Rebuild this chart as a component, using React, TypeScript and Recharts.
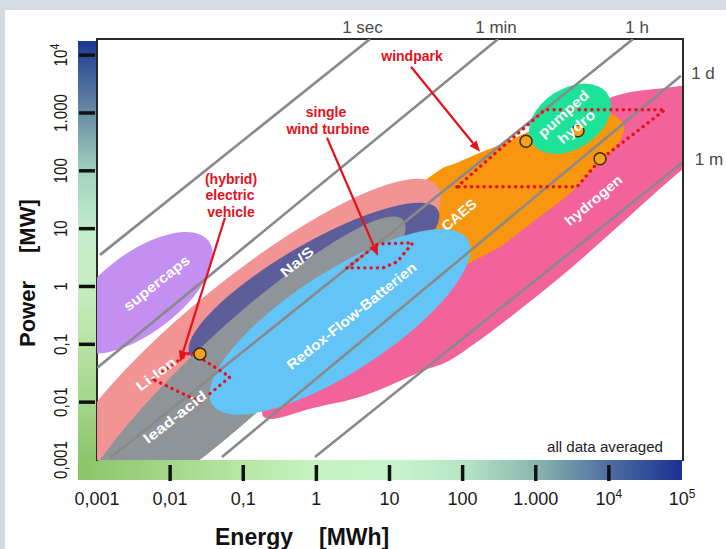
import React from 'react';
import { ScatterChart, Scatter, XAxis, YAxis, ReferenceDot } from 'recharts';

type Pt = { e: number; p: number };

const FONT = '"Liberation Sans", Arial, sans-serif';
const RED = '#e5121c';

// ---- axes ----
const xDomain = [0.001, 100000];
const yDomain = [0.001, 19000];
const xTicks = [0.001, 0.01, 0.1, 1, 10, 100, 1000, 10000, 100000];
const xTickLabels = ['0,001', '0,01', '0,1', '1', '10', '100', '1.000', '10^4', '10^5'];
const yTicks = [0.001, 0.01, 0.1, 1, 10, 100, 1000, 10000];
const yTickLabels = ['0,001', '0,01', '0,1', '1', '10', '100', '1.000', '10^4'];

// ---- outlines [MWh, MW] ----
const hydrogenOutline: Pt[] = [
  { e: 1170000, p: 3750 },
  { e: 62370, p: 2729 },
  { e: 11380, p: 1905 },
  { e: 2147, p: 625 },
  { e: 324, p: 85.3 },
  { e: 26.1, p: 4.3 },
  { e: 1.535, p: 0.119 },
  { e: 0.2716, p: 0.01334 },
  { e: 0.1803, p: 0.00676 },
  { e: 0.2553, p: 0.00512 },
  { e: 0.899, p: 0.00794 },
  { e: 4.34, p: 0.0128 },
  { e: 26.1, p: 0.0333 },
  { e: 101.2, p: 0.074 },
  { e: 2360, p: 1.589 },
  { e: 100000, p: 104 },
  { e: 1170000, p: 1136 },
];
const caesOutline: Pt[] = [
  { e: 13.9, p: 25.8 },
  { e: 44.7, p: 96.1 },
  { e: 83.8, p: 137.4 },
  { e: 173, p: 204.8 },
  { e: 404.6, p: 317.6 },
  { e: 916, p: 511.7 },
  { e: 2512, p: 826 },
  { e: 7568, p: 1049 },
  { e: 13335, p: 826 },
  { e: 16100, p: 511.7 },
  { e: 12130, p: 250 },
  { e: 6067, p: 104 },
  { e: 2675, p: 36.9 },
  { e: 916, p: 13.1 },
  { e: 324, p: 4.84 },
  { e: 126.2, p: 2.56 },
  { e: 71.6, p: 1.409 },
  { e: 26.1, p: 0.873 },
  { e: 11.9, p: 3.52 },
];

// ---- other regions: two ends of the long axis + one end of the short axis [MWh, MW] ----
const pumpedHydroRegion: Pt[] = [{ e: 897, p: 299 }, { e: 9640, p: 2108 }, { e: 4910, p: 291 }];
const liIonRegion: Pt[] = [{ e: 0.000312, p: 0.000303 }, { e: 44.7, p: 55.0 }, { e: 0.386, p: 0.0201 }];
const naSRegion: Pt[] = [{ e: 0.0187, p: 0.0656 }, { e: 46.0, p: 21.1 }, { e: 1.7, p: 0.318 }];
const leadAcidRegion: Pt[] = [{ e: 0.000567, p: 0.0000993 }, { e: 15.3, p: 14.2 }, { e: 0.2328, p: 0.01067 }];
const supercapsRegion: Pt[] = [{ e: 0.000446, p: 0.0984 }, { e: 0.0337, p: 6.1 }, { e: 0.00828, p: 0.217 }];
const redoxFlowRegion: Pt[] = [{ e: 0.0379, p: 0.00902 }, { e: 116.7, p: 6.61 }, { e: 4.95, p: 0.046 }];

const ellipseRegions = [
  { name: 'pumped hydro', pts: pumpedHydroRegion, color: '#1fe29a' },
  { name: 'Li-Ion', pts: liIonRegion, color: '#f29494' },
  { name: 'Na/S', pts: naSRegion, color: '#5c5d99' },
  { name: 'lead-acid', pts: leadAcidRegion, color: '#8f9499' },
  { name: 'supercaps', pts: supercapsRegion, color: '#c38ff0' },
  { name: 'Redox-Flow', pts: redoxFlowRegion, color: '#63c5f7' },
];

// ---- discharge-time lines ----
const lineSec: Pt[] = [{ e: 0.0011, p: 3.52 }, { e: 5.41, p: 19000 }];
const lineMin: Pt[] = [{ e: 0.001, p: 0.0391 }, { e: 305, p: 19000 }];
const lineHour: Pt[] = [{ e: 0.00151, p: 0.00108 }, { e: 21400, p: 19000 }];
const lineDay: Pt[] = [{ e: 0.0512, p: 0.00113 }, { e: 96900, p: 4400 }];
const lineMonth: Pt[] = [{ e: 0.957, p: 0.00113 }, { e: 100000, p: 137 }];
const timeLines = [lineSec, lineMin, lineHour, lineDay, lineMonth];
const timeLabels = [
  { text: '1 sec', e: 4.27, p: 30980 },
  { text: '1 min', e: 286, p: 30980 },
  { text: '1 h', e: 24270, p: 30980 },
  { text: '1 d', e: 193600, p: 4966 },
  { text: '1 m', e: 233900, p: 158 },
];

// ---- application areas (dotted) ----
const evArea: Pt[] = [{ e: 0.00565, p: 0.0252 }, { e: 0.0193, p: 0.074 }, { e: 0.0659, p: 0.0273 }, { e: 0.0256, p: 0.0101 }];
const turbineArea: Pt[] = [{ e: 2.62, p: 2.1 }, { e: 6.96, p: 5.46 }, { e: 20.9, p: 5.68 }, { e: 12.7, p: 2.67 }, { e: 8.15, p: 2.1 }];
const windparkArea: Pt[] = [{ e: 83.8, p: 52.9 }, { e: 1337, p: 1136 }, { e: 58580, p: 1136 }, { e: 7568, p: 155 }, { e: 3664, p: 52.9 }];
const areas = [evArea, turbineArea, windparkArea];

// ---- marked installations ----
const installations: Pt[] = [{ e: 0.0256, p: 0.0683 }, { e: 736, p: 324 }, { e: 3784, p: 492 }, { e: 7568, p: 161 }];

// ---- arrows ----
const evArrow: Pt[] = [{ e: 0.0562, p: 15.4 }, { e: 0.01365, p: 0.0497 }];
const turbineArrow: Pt[] = [{ e: 1.397, p: 372 }, { e: 6.96, p: 3.38 }];
const windparkArrow: Pt[] = [{ e: 19.7, p: 6295 }, { e: 173, p: 213 }];
const arrows = [evArrow, turbineArrow, windparkArrow];

// ---- texts ----
const regionLabels = [
  { text: 'supercaps', e: 0.00651, p: 1.15 },
  { text: 'Li-Ion', e: 0.00641, p: 0.0308 },
  { text: 'lead-acid', e: 0.01167, p: 0.00555 },
  { text: 'Na/S', e: 0.543, p: 2.67 },
  { text: 'Redox-Flow-Batterien', e: 3.02, p: 0.31 },
  { text: 'CAES', e: 89.1, p: 17.3 },
  { text: 'pumped', e: 2395, p: 969 },
  { text: 'hydro', e: 3606, p: 577 },
  { text: 'hydrogen', e: 6166, p: 30.9 },
];
const regionLabelAngles = [-38.4, -37, -38, -40, -38.8, -40, -42, -40, -40];
const regionLabelLengths = [80, 46, 76, 39, 162, 41, 63, 44, 70];

const annotationLabels = [
  { text: '(hybrid)', e: 0.068, p: 72.7 },
  { text: 'electric', e: 0.0659, p: 38.4 },
  { text: 'vehicle', e: 0.068, p: 19.5 },
  { text: 'single', e: 1.355, p: 1049 },
  { text: 'wind turbine', e: 1.442, p: 533 },
  { text: 'windpark', e: 20.3, p: 9772 },
];
const noteLabel = { text: 'all data averaged', e: 8851, p: 0.00168 };

// ---- renderers ----
const emptyShape = () => <g />;

const sup = (label: string, size: number, dy: number) => {
  const [b, s] = label.split('^');
  if (!s) return b;
  return (
    <>
      {b}
      <tspan dy={dy} fontSize={size}>
        {s}
      </tspan>
    </>
  );
};

const XTick = (props: any) => {
  const { x, y, payload } = props;
  const v = payload.value;
  const i = xTicks.findIndex((t) => Math.abs(t - v) / t < 1e-6);
  const label = xTickLabels[i] ?? String(v);
  const mark = v > 0.0015 && v < 50000;
  return (
    <g>
      {mark && <line x1={x} x2={x} y1={y + 5} y2={y + 21} stroke="#111" strokeWidth={3.5} />}
      <text x={x} y={y + 45} textAnchor="middle" fontSize={18} fill="#1a1a1a" fontFamily={FONT}>
        {sup(label, 12, -7)}
      </text>
    </g>
  );
};

const YTick = (props: any) => {
  const { x, y, payload } = props;
  const v = payload.value;
  const i = yTicks.findIndex((t) => Math.abs(t - v) / t < 1e-6);
  const label = yTickLabels[i] ?? String(v);
  const mark = v > 0.0015;
  return (
    <g>
      {mark && <line x1={x - 18} x2={x - 2} y1={y} y2={y} stroke="#111" strokeWidth={3.5} />}
      <text
        transform={`translate(${x - 30},${y}) rotate(-90) scale(0.8,1)`}
        textAnchor="middle"
        fontSize={19}
        fill="#1a1a1a"
        fontFamily={FONT}
      >
        {sup(label, 13, -8)}
      </text>
    </g>
  );
};

const XTitle = (props: any) => {
  const vb = props.viewBox || { x: 97, y: 460 };
  return (
    <text x={vb.x + 118} y={vb.y + 85} fontSize={23} fontWeight="bold" fill="#111" fontFamily={FONT}>
      <tspan>Energy</tspan>
      <tspan dx={26}>[MWh]</tspan>
    </text>
  );
};

const YTitle = (props: any) => {
  const vb = props.viewBox || { x: 0, y: 39 };
  return (
    <text
      transform={`translate(${vb.x + 35},${vb.y + 308}) rotate(-90)`}
      fontSize={22}
      fontWeight="bold"
      fill="#111"
      fontFamily={FONT}
    >
      <tspan>Power</tspan>
      <tspan dx={28}>[MW]</tspan>
    </text>
  );
};

const ellipseLine = (fill: string) => (props: any) => {
  const pts = props.points || [];
  if (pts.length < 3) return <g />;
  const [a, b, c] = pts;
  const cx = (a.x + b.x) / 2;
  const cy = (a.y + b.y) / 2;
  const rx = Math.hypot(b.x - a.x, b.y - a.y) / 2;
  const ry = Math.hypot(c.x - cx, c.y - cy);
  const ang = (Math.atan2(b.y - a.y, b.x - a.x) * 180) / Math.PI;
  return <ellipse cx={cx} cy={cy} rx={rx} ry={ry} fill={fill} transform={`rotate(${ang} ${cx} ${cy})`} />;
};

const smoothOutline = (fill: string) => (props: any) => {
  const pts = props.points || [];
  const n = pts.length;
  if (n < 3) return <g />;
  let d = `M${pts[0].x},${pts[0].y}`;
  for (let i = 0; i < n; i++) {
    const p0 = pts[(i - 1 + n) % n];
    const p1 = pts[i];
    const p2 = pts[(i + 1) % n];
    const p3 = pts[(i + 2) % n];
    const c1x = p1.x + (p2.x - p0.x) / 6;
    const c1y = p1.y + (p2.y - p0.y) / 6;
    const c2x = p2.x - (p3.x - p1.x) / 6;
    const c2y = p2.y - (p3.y - p1.y) / 6;
    d += ` C${c1x},${c1y} ${c2x},${c2y} ${p2.x},${p2.y}`;
  }
  return <path d={d + ' Z'} fill={fill} />;
};

const greyLine = (props: any) => {
  const pts = props.points || [];
  if (pts.length < 2) return <g />;
  const [a, b] = pts;
  return <line x1={a.x} y1={a.y} x2={b.x} y2={b.y} stroke="#898989" strokeWidth={2.6} />;
};

const dottedLine = (props: any) => {
  const pts = props.points || [];
  if (pts.length < 2) return <g />;
  const d = pts.map((q: any, i: number) => `${i ? 'L' : 'M'}${q.x},${q.y}`).join(' ') + ' Z';
  return <path d={d} fill="none" stroke={RED} strokeWidth={3.4} strokeDasharray="0.1 6.2" strokeLinecap="round" />;
};

const arrowLine = (props: any) => {
  const pts = props.points || [];
  if (pts.length < 2) return <g />;
  const [a, b] = pts;
  const ang = Math.atan2(b.y - a.y, b.x - a.x);
  const L = 11;
  const W = 4.5;
  const bx = b.x - L * Math.cos(ang);
  const by = b.y - L * Math.sin(ang);
  const px = -Math.sin(ang) * W;
  const py = Math.cos(ang) * W;
  return (
    <g>
      <line x1={a.x} y1={a.y} x2={bx} y2={by} stroke={RED} strokeWidth={2.2} />
      <polygon points={`${b.x},${b.y} ${bx + px},${by + py} ${bx - px},${by - py}`} fill={RED} />
    </g>
  );
};

const installationShape = (props: any) => (
  <circle cx={props.cx} cy={props.cy} r={6} fill="#f7a21b" stroke="#3b2a12" strokeWidth={1.5} />
);

const textShape =
  (text: string, opts: { angle?: number; size: number; color: string; weight?: string; len?: number }) =>
  (props: any) => {
    const { cx, cy } = props;
    return (
      <text
        x={cx}
        y={cy}
        dy="0.35em"
        textAnchor="middle"
        fontSize={opts.size}
        fontWeight={opts.weight || 'normal'}
        fill={opts.color}
        fontFamily={FONT}
        transform={opts.angle ? `rotate(${opts.angle} ${cx} ${cy})` : undefined}
        textLength={opts.len}
        lengthAdjust={opts.len ? 'spacingAndGlyphs' : undefined}
      >
        {text}
      </text>
    );
  };

const yGradient =
  'linear-gradient(to top, #8dc56b 0%, #a5d68b 14%, #b7e3a5 28%, #c5eec0 41%, #c3eccb 55%, #a0d2bd 69%, #6e90a7 82%, #1c3792 100%)';
const xGradient =
  'linear-gradient(to right, #8cc46a 0%, #a4d688 15%, #b8e6a4 27%, #c6f2c0 39%, #c8f4cc 52%, #b6e5c5 64%, #89b5ae 76%, #4d6da2 88%, #1a3192 100%)';

export default function App() {
  return (
    <div
      style={{
        position: 'absolute',
        left: 0,
        top: 0,
        width: 726,
        height: 549,
        background: '#d6dbe1',
        overflow: 'hidden',
        fontFamily: FONT,
      }}
    >
      <div style={{ position: 'absolute', left: 5, top: 10, right: 0, bottom: 0, background: '#ffffff' }} />
      <div style={{ position: 'absolute', left: 78, top: 41, width: 19, height: 419, background: yGradient }} />
      <div style={{ position: 'absolute', left: 78, top: 460, width: 604, height: 20, background: xGradient }} />
      <div
        style={{
          position: 'absolute',
          left: 96,
          top: 38,
          width: 588,
          height: 423,
          boxSizing: 'border-box',
          borderTop: '2px solid #2b2b2b',
          borderLeft: '2px solid #2b2b2b',
          borderRight: '2px solid #2b2b2b',
        }}
      />
      <div style={{ position: 'absolute', left: 0, top: 0 }}>
        <ScatterChart width={726} height={549} margin={{ top: 39, right: 44, bottom: 0, left: 0 }}>
          <XAxis
            type="number"
            dataKey="e"
            scale="log"
            domain={xDomain}
            ticks={xTicks}
            interval={0}
            allowDataOverflow
            axisLine={false}
            tickLine={false}
            tickSize={0}
            tickMargin={0}
            height={89}
            tick={<XTick />}
            label={<XTitle />}
          />
          <YAxis
            type="number"
            dataKey="p"
            scale="log"
            domain={yDomain}
            ticks={yTicks}
            interval={0}
            allowDataOverflow
            axisLine={false}
            tickLine={false}
            tickSize={0}
            tickMargin={0}
            width={97}
            tick={<YTick />}
            label={<YTitle />}
          />
          <Scatter
            name="hydrogen"
            data={hydrogenOutline}
            isAnimationActive={false}
            line={smoothOutline('#f3639b')}
            lineType="joint"
            shape={emptyShape}
            legendType="none"
          />
          <Scatter
            name="CAES"
            data={caesOutline}
            isAnimationActive={false}
            line={smoothOutline('#f8970f')}
            lineType="joint"
            shape={emptyShape}
            legendType="none"
          />
          {ellipseRegions.map((r) => (
            <Scatter
              key={r.name}
              name={r.name}
              data={r.pts}
              isAnimationActive={false}
              line={ellipseLine(r.color)}
              lineType="joint"
              shape={emptyShape}
              legendType="none"
            />
          ))}
          {timeLines.map((l, i) => (
            <Scatter
              key={`t${i}`}
              data={l}
              isAnimationActive={false}
              line={greyLine}
              lineType="joint"
              shape={emptyShape}
              legendType="none"
            />
          ))}
          {areas.map((a, i) => (
            <Scatter
              key={`a${i}`}
              data={a}
              isAnimationActive={false}
              line={dottedLine}
              lineType="joint"
              shape={emptyShape}
              legendType="none"
            />
          ))}
          {arrows.map((a, i) => (
            <Scatter
              key={`r${i}`}
              data={a}
              isAnimationActive={false}
              line={arrowLine}
              lineType="joint"
              shape={emptyShape}
              legendType="none"
            />
          ))}
          <Scatter data={installations} isAnimationActive={false} shape={installationShape} legendType="none" />
          {regionLabels.map((l, i) => (
            <ReferenceDot
              key={`rl${i}`}
              x={l.e}
              y={l.p}
              ifOverflow="visible"
              zIndex={2500}
              shape={textShape(l.text, {
                angle: regionLabelAngles[i],
                size: 14,
                color: '#ffffff',
                weight: 'bold',
                len: regionLabelLengths[i],
              })}
            />
          ))}
          {annotationLabels.map((l, i) => (
            <ReferenceDot
              key={`al${i}`}
              x={l.e}
              y={l.p}
              ifOverflow="visible"
              zIndex={2500}
              shape={textShape(l.text, { size: 14, color: RED, weight: 'bold' })}
            />
          ))}
          {timeLabels.map((l, i) => (
            <ReferenceDot
              key={`tl${i}`}
              x={l.e}
              y={l.p}
              ifOverflow="visible"
              zIndex={2500}
              shape={textShape(l.text, { size: 17, color: '#4a4a4a' })}
            />
          ))}
          <ReferenceDot
            x={noteLabel.e}
            y={noteLabel.p}
            ifOverflow="visible"
            zIndex={2500}
            shape={textShape(noteLabel.text, { size: 14, color: '#222222', len: 116 })}
          />
        </ScatterChart>
      </div>
    </div>
  );
}
